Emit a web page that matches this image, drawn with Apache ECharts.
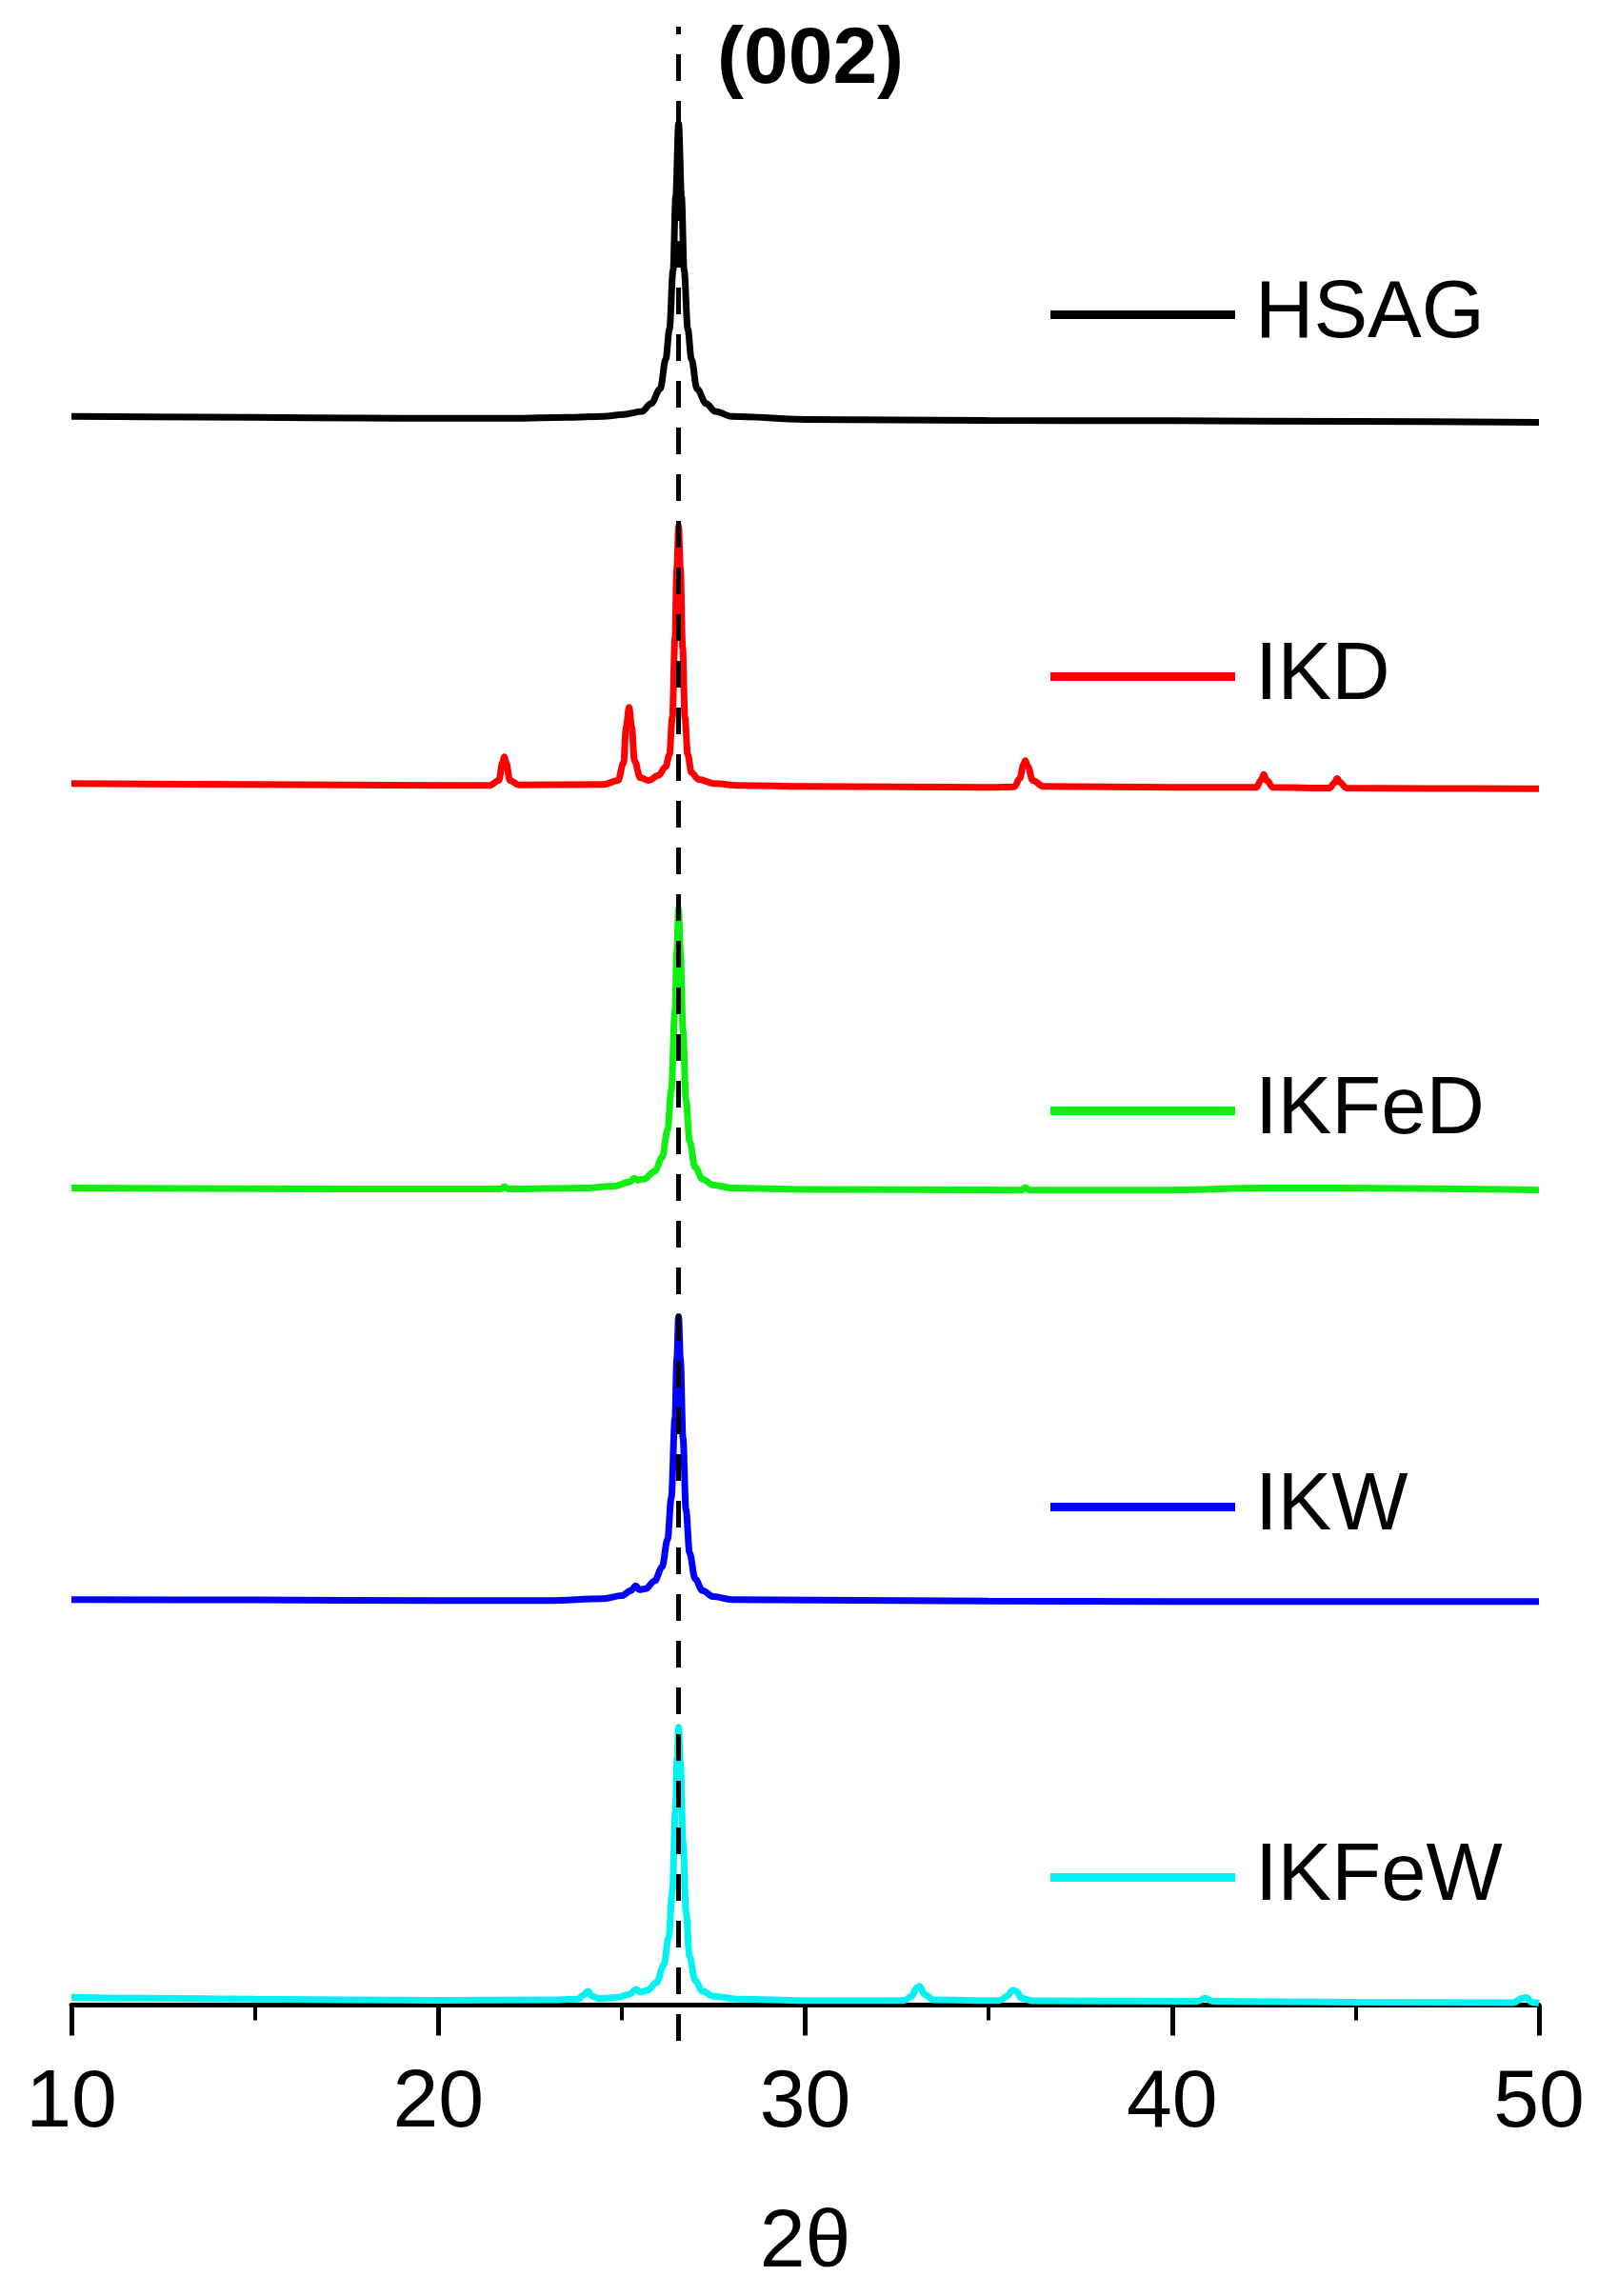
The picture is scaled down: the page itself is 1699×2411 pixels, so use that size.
<!DOCTYPE html>
<html>
<head>
<meta charset="utf-8">
<title>XRD patterns</title>
<style>
    html, body { margin: 0; padding: 0; background: #fff; }
    #xrd_chart { width: 1699px; height: 2411px; }
</style>
<script src="https://cdn.jsdelivr.net/npm/echarts@6/dist/echarts.min.js"></script>
</head>
<body>
<div id="xrd_chart"></div>
<script>
    // 2θ tick values of the bottom axis
    const xTicks = [10, 20, 30, 40, 50]
    const peak002 = 26.55

    const sampleNames = ['HSAG', 'IKD', 'IKFeD', 'IKW', 'IKFeW']
    const sampleColors = ['#000000', '#ff0000', '#11ee11', '#0000ff', '#00f2f2']
    // vertical stacking offset of each pattern (a.u.)
    const stackOffsets = [80.2, 61.6, 41.25, 20.45, 0.25]

    // intensities, [2θ, I (a.u.)] above each baseline
    const hsag = [
        [10, 0.1], [12, 0.08], [15, 0.05], [18, 0.02], [20, 0.0], [22, 0.0], [23.5, 0.05],
        [24.5, 0.1], [25.05, 0.2], [25.55, 0.35], [25.8, 0.75], [26.05, 1.5], [26.2, 3.0],
        [26.3, 4.5], [26.4, 7.5], [26.47, 11.2], [26.55, 14.9], [26.63, 11.2], [26.7, 7.5],
        [26.8, 4.5], [26.9, 3.0], [27.05, 1.5], [27.3, 0.75], [27.55, 0.35], [28.0, 0.1],
        [30, -0.05], [35, -0.1], [40, -0.12], [45, -0.15], [50, -0.2]
    ]
    const ikd = [
        [10, 0.15], [15, 0.1], [20, 0.05], [21.4, 0.05], [21.65, 0.3], [21.75, 1.2], [21.8, 1.5],
        [21.85, 1.2], [21.95, 0.3], [22.2, 0.08], [24.5, 0.1], [24.9, 0.3], [25.05, 1.2],
        [25.12, 3.0], [25.2, 4.0], [25.27, 3.0], [25.35, 1.3], [25.5, 0.45], [25.73, 0.3],
        [26.0, 0.55], [26.2, 1.0], [26.3, 1.6], [26.38, 3.5], [26.45, 7.5], [26.5, 11],
        [26.55, 13.15], [26.6, 11], [26.66, 7], [26.72, 3.5], [26.8, 1.6], [26.9, 0.7],
        [27.1, 0.35], [27.5, 0.15], [28.2, 0.05], [30, 0.0], [35, -0.05], [35.7, -0.02],
        [35.85, 0.4], [35.95, 1.1], [36.0, 1.3], [36.07, 1.0], [36.2, 0.3], [36.5, 0.0],
        [40, -0.05], [42.3, -0.05], [42.42, 0.3], [42.5, 0.6], [42.58, 0.3], [42.75, -0.05],
        [44.3, -0.08], [44.43, 0.2], [44.5, 0.4], [44.58, 0.2], [44.75, -0.08], [47, -0.1],
        [50, -0.12]
    ]
    const ikfed = [
        [10, 0.05], [15, 0.02], [20, 0.0], [21.7, 0.0], [21.8, 0.12], [21.9, 0.0], [24, 0.05],
        [24.8, 0.15], [25.2, 0.35], [25.35, 0.55], [25.45, 0.45], [25.6, 0.5], [25.9, 0.9],
        [26.1, 1.6], [26.25, 3.0], [26.35, 5.0], [26.45, 9.0], [26.5, 12.0], [26.55, 14.15],
        [26.6, 12.0], [26.67, 8], [26.75, 4.5], [26.85, 2.4], [27.0, 1.1], [27.2, 0.5],
        [27.5, 0.2], [28, 0.05], [30, -0.02], [35.9, -0.05], [36.0, 0.08], [36.1, -0.05],
        [40, -0.05], [42.5, 0.05], [44.5, 0.05], [50, -0.05]
    ]
    const ikw = [
        [10, 0.05], [15, 0.03], [20, 0.0], [23, 0.0], [24.5, 0.1], [25.0, 0.25], [25.25, 0.5],
        [25.38, 0.75], [25.48, 0.55], [25.65, 0.6], [25.9, 1.0], [26.1, 1.7], [26.25, 3.1],
        [26.35, 5.2], [26.45, 9.2], [26.5, 12.2], [26.55, 14.35], [26.6, 12.2], [26.67, 8.2],
        [26.75, 4.6], [26.85, 2.4], [27.0, 1.1], [27.2, 0.5], [27.5, 0.2], [28, 0.05],
        [35, -0.02], [40, -0.05], [45, -0.05], [50, -0.05]
    ]
    const ikfew = [
        [10, 0.15], [12, 0.1], [15, 0.05], [20, 0.0], [23, 0.02], [23.8, 0.05], [23.95, 0.25],
        [24.08, 0.45], [24.2, 0.2], [24.4, 0.08], [24.9, 0.15], [25.2, 0.3], [25.4, 0.55],
        [25.5, 0.4], [25.7, 0.5], [25.95, 0.9], [26.15, 1.8], [26.28, 3.2], [26.38, 5.5],
        [26.46, 9.5], [26.51, 12.3], [26.55, 13.8], [26.6, 12.0], [26.67, 8.0], [26.75, 4.5],
        [26.85, 2.2], [27.0, 1.0], [27.2, 0.45], [27.5, 0.2], [28.2, 0.05], [30, -0.02],
        [32.7, -0.02], [32.9, 0.2], [33.05, 0.65], [33.12, 0.7], [33.25, 0.3], [33.5, 0.02],
        [35.3, -0.02], [35.5, 0.2], [35.65, 0.5], [35.75, 0.45], [35.9, 0.1], [36.2, -0.03],
        [40.7, -0.05], [40.9, 0.1], [41.1, -0.05], [45, -0.1], [49.3, -0.12], [49.55, 0.1],
        [49.65, 0.15], [49.8, -0.1], [50, -0.15]
    ]
    const patterns = [hsag, ikd, ikfed, ikw, ikfew]

    // legend row centres (px from top)
    const legendRows = [330, 710, 1166, 1582, 1971]

    const fontFamily = "'Liberation Sans', Arial, sans-serif"

    let xrd_chart = echarts.init(document.getElementById('xrd_chart'))

    let series = sampleNames.map(function (name, i) {
        let s = {
            name: name,
            type: 'line',
            showSymbol: false,
            smooth: 0.35,
            smoothMonotone: 'x',
            lineStyle: { color: sampleColors[i], width: 7 },
            itemStyle: { color: sampleColors[i] },
            data: patterns[i].map(function (p) { return [p[0], p[1] + stackOffsets[i]] })
        }
        if (i === 0) {
            // (002) reference line
            s.markLine = {
                silent: true,
                symbol: 'none',
                label: { show: false },
                lineStyle: { color: '#000', width: 5, type: [28, 21] },
                data: [{ xAxis: peak002 }]
            }
        }
        return s
    })

    let legends = sampleNames.map(function (name, i) {
        return {
            data: [name],
            left: 1103,
            top: legendRows[i] - 42,
            padding: 0,
            icon: 'rect',
            itemWidth: 194,
            itemHeight: 9,
            selectedMode: false,
            textStyle: {
                color: '#000',
                fontSize: 85,
                fontFamily: fontFamily,
                padding: [0, 0, 0, 16]
            }
        }
    })

    xrd_chart.setOption({
        animation: false,
        backgroundColor: '#fff',
        title: {
            text: '(002)',
            left: 753,
            top: 22,
            padding: 0,
            textStyle: { fontSize: 84, fontWeight: 'bold', color: '#000', fontFamily: fontFamily }
        },
        legend: legends,
        grid: {
            left: 75,
            right: 83,
            top: 28,
            bottom: 268,
            outerBoundsMode: 'none',
            containLabel: false
        },
        xAxis: {
            type: 'value',
            min: xTicks[0],
            max: xTicks[xTicks.length - 1],
            interval: 10,
            name: '2θ',
            nameLocation: 'middle',
            nameGap: 170,
            nameTextStyle: { fontSize: 86, color: '#000', fontFamily: fontFamily },
            axisLine: { onZero: true, lineStyle: { color: '#000', width: 5 } },
            axisTick: { inside: false, length: 32, lineStyle: { color: '#000', width: 5 } },
            minorTick: { show: true, splitNumber: 2, length: 16, lineStyle: { color: '#000', width: 4 } },
            axisLabel: { fontSize: 86, color: '#000', margin: 23, fontFamily: fontFamily },
            splitLine: { show: false }
        },
        yAxis: {
            type: 'value',
            show: false,
            min: -1.8,
            max: 100,
            splitLine: { show: false }
        },
        series: series
    })
</script>
</body>
</html>
